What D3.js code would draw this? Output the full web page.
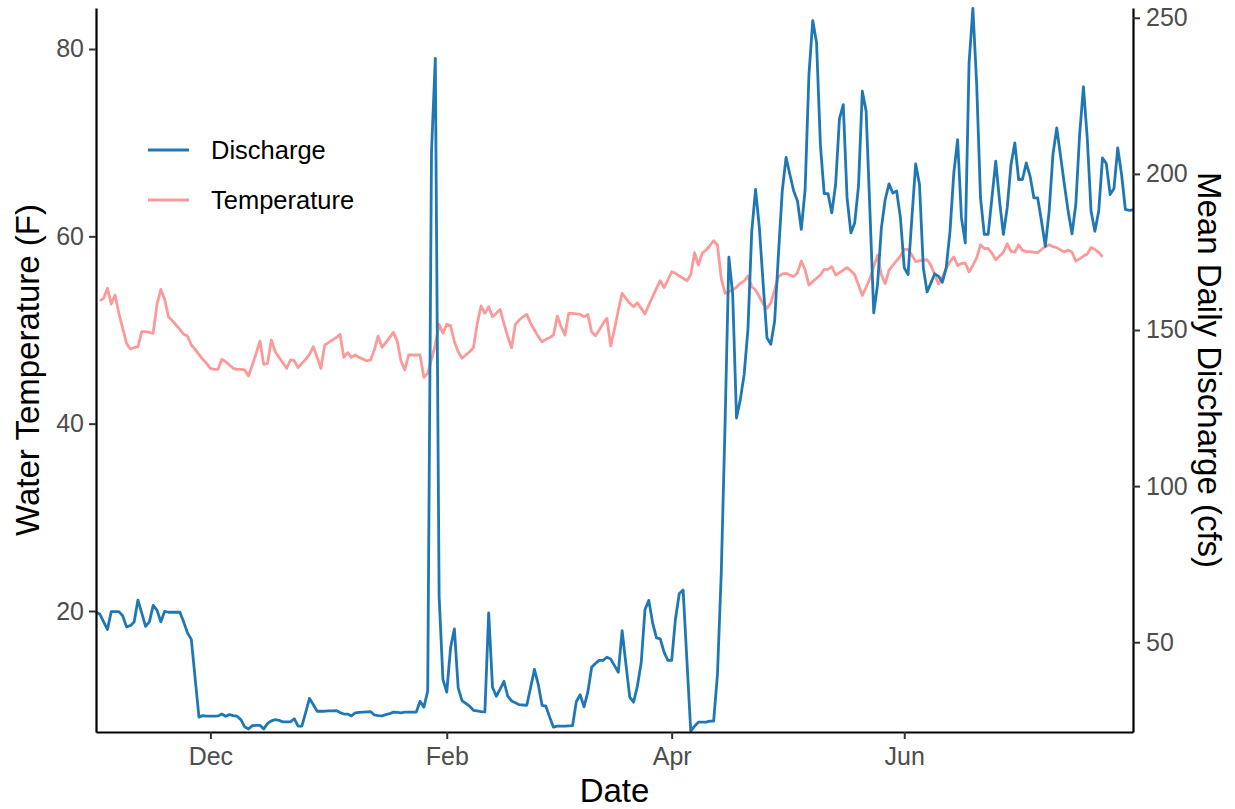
<!DOCTYPE html>
<html>
<head>
<meta charset="utf-8">
<script src="https://cdn.jsdelivr.net/npm/d3@7"></script>
<style>
  body { margin: 0; background: #fff; }
  svg { display: block; }
  text { font-family: "Liberation Sans", Arial, Helvetica, sans-serif; }
</style>
</head>
<body>
<div id="graphics"></div>
<script>
var width = 1235, height = 809;

// daily mean discharge (cfs), one value per day from Nov 1
var dischargeStart = "2018-11-01";
var dischargeCfs = [
  59.6,59.0,56.5,54.1,59.8,59.8,59.8,58.5,54.9,55.3,
  56.5,63.5,59.3,55.1,56.5,61.8,60.3,56.5,59.9,59.6,
  59.6,59.6,59.6,56.5,53.0,50.9,38.5,26.0,26.5,26.3,
  26.3,26.3,26.4,27.0,26.3,26.8,26.5,26.3,25.2,22.9,
  22.2,23.3,23.4,23.4,22.2,24.0,24.8,25.2,25.0,24.5,
  24.5,24.5,25.5,23.1,23.1,27.5,32.0,30.0,27.9,27.9,
  27.9,28.0,28.0,28.1,27.5,27.0,27.0,26.4,27.4,27.5,
  27.6,27.7,27.8,26.7,26.5,26.4,26.8,27.1,27.6,27.5,
  27.4,27.6,27.6,27.6,27.6,31.1,29.2,34.3,207,237,
  64.7,38.1,34.0,48.2,54.3,35.4,31.3,30.4,29.5,28.2,
  28.0,27.8,27.7,59.4,35.6,32.7,35.0,37.5,32.7,31.2,
  30.6,30.0,29.9,29.8,35.5,41.3,36.5,29.8,29.5,26.0,
  22.8,23.1,23.1,23.1,23.2,23.3,31.0,33.2,29.3,34.0,
  42.0,43.2,44.2,44.2,45.2,44.6,42.5,40.4,53.7,42.9,
  32.4,30.8,35.9,43.4,60.5,63.4,56.2,51.4,51.1,46.8,
  44.2,44.2,57.6,65.6,66.7,44.0,21.5,23.1,24.4,24.4,
  24.4,24.7,24.7,39.6,72,120,173.3,161.4,121.8,127.7,
  135.7,150.2,181.6,195,182.7,164.6,147.5,145.4,152.8,174.2,
  194.5,205.3,199.8,194.5,191.3,182.2,195,231.8,249.1,242,
  209.4,193.7,193.7,187.5,196.6,217.6,222.2,192.3,181.1,184.3,
  196.1,226.5,220.1,188,155.5,164.6,182.7,191.8,196.8,193.9,
  194.5,185.9,169.9,167.8,185.9,203.2,196.6,169.9,162.2,165.1,
  168,167.2,165.3,169.9,181.6,200.3,211,185.9,177.9,235.5,
  253,228.6,192.3,180.6,180.6,192.3,204.1,191.3,180.6,189.1,
  203,209.9,198.2,198.2,203.5,199.3,192.3,192.3,184.8,176.8,
  188,206.2,214.7,205.7,196.6,188,180.8,190.2,212.6,227.9,
  211.5,188,181.6,188,205.1,203.3,193.4,195.3,208.3,199.8,
  188.6,188.3,188.5
];

// daily water temperature (F), starting Nov 2
var tempStart = "2018-11-02";
var waterTempF = [
  53.13,53.38,54.45,52.77,53.73,51.78,50.18,48.58,47.97,48.11,
  48.22,49.82,49.82,49.75,49.65,52.74,54.34,53.28,51.42,51.0,
  50.53,50.07,49.54,49.36,48.4,47.94,47.4,46.87,46.44,45.91,
  45.8,45.8,46.87,46.62,46.26,45.91,45.8,45.8,45.73,45.09,
  46.26,47.51,48.82,46.33,46.44,48.93,47.68,47.08,46.51,45.91,
  46.8,46.72,45.98,46.44,46.87,47.4,48.22,47.08,45.91,48.4,
  48.65,48.93,49.18,49.54,47.08,47.58,47.08,47.33,47.08,46.9,
  46.69,46.8,47.86,49.36,48.15,48.65,49.18,49.75,48.82,46.69,
  45.73,47.33,47.33,47.33,47.33,44.95,45.37,46.9,48.4,50.6,
  49.65,50.6,50.46,48.75,47.68,46.98,47.33,47.68,48.11,50.71,
  52.56,51.78,52.49,51.42,51.78,52.2,50.71,49.29,48.11,50.6,
  51.07,51.42,51.67,50.71,50.0,49.29,48.75,49.0,49.18,49.47,
  51.49,50.35,49.47,51.78,51.78,51.72,51.67,51.42,51.67,49.82,
  49.39,50.0,50.71,51.25,48.3,50.1,52.1,53.92,53.38,52.85,
  52.49,52.91,52.31,51.71,52.67,53.55,54.45,55.26,54.52,55.34,
  56.22,56.05,55.76,55.52,55.26,55.9,58.25,56.94,58.19,58.54,
  59.0,59.53,59.07,55.52,53.92,54.1,54.3,54.56,54.98,55.23,
  55.76,54.62,54.27,53.55,52.77,52.31,52.91,54.27,55.69,56.0,
  56.05,55.87,55.7,56.12,57.37,56.4,54.8,55.16,55.52,55.87,
  56.48,56.48,56.76,55.87,56.12,56.4,56.65,56.33,55.9,54.8,
  53.7,54.56,55.5,56.76,58.0,55.9,54.95,56.4,56.9,57.4,
  57.9,58.6,58.6,58.0,57.3,57.4,57.45,57.5,56.9,55.9,
  54.9,55.6,56.6,57.3,57.8,56.9,57.1,57.15,56.2,56.9,
  57.7,59.1,58.7,58.7,58.2,57.5,57.9,58.3,59.2,58.4,
  58.3,59.1,58.5,58.36,58.36,58.3,58.25,58.6,58.9,59.1,
  58.9,58.79,58.55,58.33,58.55,58.3,57.35,57.6,57.9,58.1,
  58.8,58.6,58.3,57.8
];

var monthTicks = ["2018-12-01","2019-02-01","2019-04-01","2019-06-01"];
var monthLabels = ["Dec","Feb","Apr","Jun"];
var tempTicks = [20,40,60,80];
var flowTicks = [50,100,150,200,250];
var seriesNames = ["Discharge","Temperature"];
var seriesColors = ["#1F78B4","#FB9A99"];

var parseDay = d3.utcParse("%Y-%m-%d");

var flowData = dischargeCfs.map(function(v, i) {
  return {date: d3.utcDay.offset(parseDay(dischargeStart), i), value: v};
});
var tempData = waterTempF.map(function(v, i) {
  return {date: d3.utcDay.offset(parseDay(tempStart), i), value: v};
});

// panel edges
var panelL = 96, panelR = 1133, panelT = 8, panelB = 732;

var x = d3.scaleUtc()
  .domain([parseDay("2018-11-01"), parseDay("2019-07-31")])
  .range([panelL, panelR]);

// secondary axis: discharge = temperature * 3
var yTemp = d3.scaleLinear().domain([7.082, 84.377]).range([panelB, panelT]);
var yFlow = d3.scaleLinear().domain([7.082 * 3, 84.377 * 3]).range([panelB, panelT]);

var svg = d3.select('#graphics')
  .append('svg')
  .attr('width', width)
  .attr('height', height);

// lines
var tempLine = d3.line().x(d => x(d.date)).y(d => yTemp(d.value));
var flowLine = d3.line().x(d => x(d.date)).y(d => yFlow(d.value));

svg.append('path')
  .datum(tempData)
  .attr('d', tempLine)
  .attr('fill', 'none')
  .attr('stroke', seriesColors[1])
  .attr('stroke-width', 2.8)
  .attr('stroke-linejoin', 'round');

svg.append('path')
  .datum(flowData)
  .attr('d', flowLine)
  .attr('fill', 'none')
  .attr('stroke', seriesColors[0])
  .attr('stroke-width', 2.8)
  .attr('stroke-linejoin', 'round');

// axes
function styleAxis(g) {
  g.select('.domain').attr('stroke', '#000').attr('stroke-width', 2.2);
  g.selectAll('.tick line').attr('stroke', '#333').attr('stroke-width', 2);
  g.selectAll('.tick text').attr('fill', '#4D4D4D').style('font-size', '25px');
}

svg.append('g')
  .attr('transform', 'translate(' + panelL + ',0)')
  .call(d3.axisLeft(yTemp).tickValues(tempTicks).tickSize(7).tickSizeOuter(0).tickPadding(5))
  .call(styleAxis);

svg.append('g')
  .attr('transform', 'translate(' + panelR + ',0)')
  .call(d3.axisRight(yFlow).tickValues(flowTicks).tickSize(7).tickSizeOuter(0).tickPadding(6))
  .call(styleAxis);

svg.append('g')
  .attr('transform', 'translate(0,' + panelB + ')')
  .call(d3.axisBottom(x)
    .tickValues(monthTicks.map(parseDay))
    .tickFormat(function(d, i) { return monthLabels[i]; })
    .tickSize(7).tickSizeOuter(0).tickPadding(8))
  .call(styleAxis);

// axis titles
svg.append('text')
  .attr('x', (panelL + panelR) / 2)
  .attr('y', 802)
  .attr('text-anchor', 'middle')
  .style('font-size', '33px')
  .text('Date');

svg.append('text')
  .attr('transform', 'translate(39,' + (panelT + panelB) / 2 + ') rotate(-90)')
  .attr('text-anchor', 'middle')
  .style('font-size', '33px')
  .text('Water Temperature (F)');

svg.append('text')
  .attr('transform', 'translate(1198,' + (panelT + panelB) / 2 + ') rotate(90)')
  .attr('text-anchor', 'middle')
  .style('font-size', '33px')
  .text('Mean Daily Discharge (cfs)');

// legend
var legend = svg.selectAll('.legend')
  .data(seriesNames).enter().append('g')
  .attr('class', 'legend')
  .attr('transform', function(d, i) {
    return 'translate(' + [148, 150 + i * 50] + ')';
  });

legend.append('line')
  .attr('x1', 0).attr('x2', 41)
  .attr('y1', 0).attr('y2', 0)
  .attr('stroke', (d, i) => seriesColors[i])
  .attr('stroke-width', 2.8);

legend.append('text')
  .attr('x', 63)
  .attr('y', 9)
  .style('font-size', '25.5px')
  .text(d => d);
</script>
</body>
</html>
